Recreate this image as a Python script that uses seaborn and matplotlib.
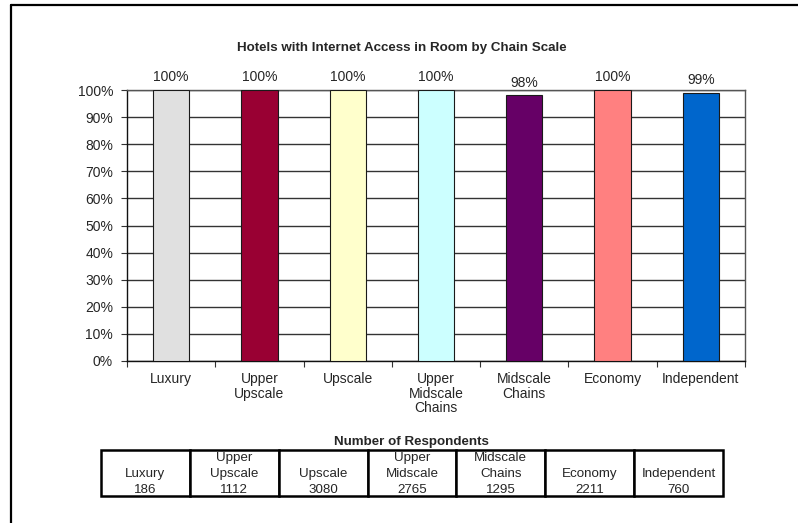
import matplotlib
matplotlib.use("Agg")
import matplotlib.pyplot as plt
import seaborn as sns
import pandas as pd
from matplotlib.lines import Line2D
from matplotlib.patches import Rectangle

# Chart data
categories = ["Luxury", "Upper\nUpscale", "Upscale", "Upper\nMidscale\nChains",
              "Midscale\nChains", "Economy", "Independent"]
internet_pct = [100, 100, 100, 100, 98, 100, 99]
bar_colors = ["#E0E0E0", "#990033", "#FFFFCC", "#CCFFFF", "#660066", "#FF8080", "#0066CC"]

# Respondents table
table_labels = ["Luxury", "Upper\nUpscale", "Upscale", "Upper\nMidscale",
                "Midscale\nChains", "Economy", "Independent"]
respondents = [186, 1112, 3080, 2765, 1295, 2211, 760]

sns.set_style("white")
plt.rcParams["font.family"] = ["Liberation Sans", "DejaVu Sans"]

df = pd.DataFrame({"scale": categories, "pct": internet_pct})

fig = plt.figure(figsize=(7.98, 5.23), dpi=100)
ax = fig.add_axes([0.1591, 0.3098, 0.7745, 0.518])

sns.barplot(data=df, x="scale", y="pct", hue="scale", palette=bar_colors,
            legend=False, width=0.41, edgecolor="#1a1a1a", linewidth=0.8,
            saturation=1, ax=ax, zorder=3)

ax.set_ylim(0, 100)
ax.set_xlim(-0.5, len(categories) - 0.5)
ax.set_yticks(range(0, 101, 10))
ax.set_yticklabels([f"{v}%" for v in range(0, 101, 10)], fontsize=10)
ax.set_xticks(range(len(categories)))
ax.set_xticklabels(categories, fontsize=10, linespacing=1.05)
ax.set_xticks([i - 0.5 for i in range(len(categories) + 1)], minor=True)
ax.tick_params(axis="x", which="major", length=0, pad=8)
ax.tick_params(axis="x", which="minor", length=4, width=0.8, color="#333333", direction="out", bottom=True)
ax.tick_params(axis="y", length=4, width=0.8, color="#333333", direction="out", left=True, pad=6)
ax.set_xlabel("")
ax.set_ylabel("")

ax.yaxis.grid(True, color="#333333", linewidth=1.0)
ax.set_axisbelow(True)
for side, sp in ax.spines.items():
    sp.set_visible(True)
    sp.set_linewidth(1.0)
    sp.set_color("#111111" if side in ("left", "bottom") else "#555555")

for i, v in enumerate(internet_pct):
    ax.text(i, v + 2.2, f"{v}%", ha="center", va="bottom", fontsize=10, clip_on=False)

fig.text(0.503, 0.908, "Hotels with Internet Access in Room by Chain Scale",
         ha="center", va="center", fontsize=9.6, fontweight="bold")

# Respondents table: one boxed cell per chain scale, count on the last line
tax = fig.add_axes([0.1266, 0.0516, 0.7794, 0.088])
tax.set_xlim(0, len(table_labels))
tax.set_ylim(0, 1)
tax.axis("off")
for i, (lab, n) in enumerate(zip(table_labels, respondents)):
    tax.add_patch(Rectangle((i, 0), 1, 1, facecolor="white", edgecolor="black",
                            linewidth=1.8, clip_on=False))
    tax.text(i + 0.5, 0.0, f"{lab}\n{n}", ha="center", va="bottom",
             fontsize=9.6, linespacing=1.42, clip_on=False)
fig.text(0.516, 0.155, "Number of Respondents", ha="center", va="center",
         fontsize=9.6, fontweight="bold")

# Frame edges of the chart area
fig.add_artist(Line2D([11 / 798, 11 / 798], [0, 1 - 5 / 523], transform=fig.transFigure,
                      color="black", linewidth=1.6))
fig.add_artist(Line2D([11 / 798, 1], [1 - 5 / 523, 1 - 5 / 523], transform=fig.transFigure,
                      color="black", linewidth=1.6))

fig.savefig("out.png", dpi=100)
